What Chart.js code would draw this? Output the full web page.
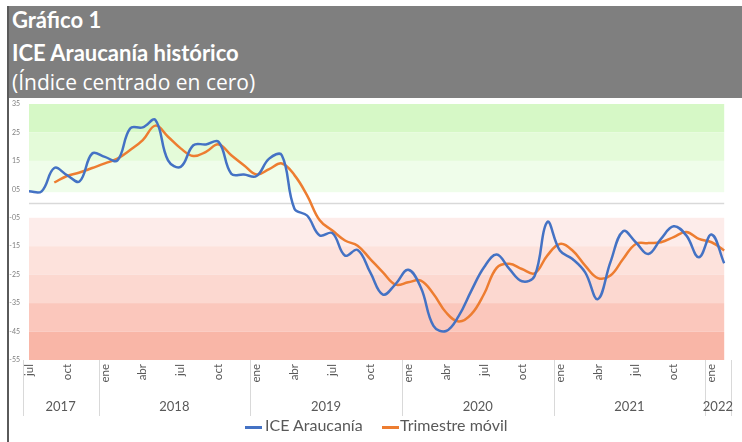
<!DOCTYPE html>
<html>
<head>
<meta charset="utf-8">
<script src="https://cdn.jsdelivr.net/npm/chart.js@4"></script>
<style>
  body { margin: 0; background: #fff; }
  #wrap { position: relative; width: 742px; height: 442px; overflow: hidden; }
  #frame { position: absolute; left: 7px; top: 6px; width: 735px; height: 436px; border-left: 2px solid #5a5a5a; }
  #head { position: absolute; left: 9px; top: 6px; width: 733px; height: 92px; background: #7f7f7f; color: #fff;
          font-family: Lato, "Open Sans", sans-serif; font-size: 22px; }
  #head div { position: absolute; left: 3px; white-space: nowrap; }
  #chart { position: absolute; left: 0; top: 0; }
  #legend { position: absolute; top: 415px; left: 0; width: 742px; font-family: Lato, sans-serif; font-size: 16px; color: #595959; }
  #legend span { position: absolute; white-space: nowrap; }
  #legend i { position: absolute; height: 2.5px; width: 17px; top: 11px; }
</style>
</head>
<body>
<div id="wrap">
  <canvas id="chart" width="742" height="442"></canvas>
  <div id="frame"></div>
  <div id="head">
    <div style="top:0px;font-weight:bold">Gráfico 1</div>
    <div style="top:33px;font-weight:bold">ICE Araucanía histórico</div>
    <div style="top:62px;font-family:'Open Sans';font-size:21px">(Índice centrado en cero)</div>
  </div>
  <div id="legend">
    <i style="left:245px;background:#4472c4"></i><span style="left:265px">ICE Araucanía</span>
    <i style="left:382px;background:#ed7d31"></i><span style="left:400px">Trimestre móvil</span>
  </div>
</div>
<script>
var months = ['jul','ago','sep','oct','nov','dic',
  'ene','feb','mar','abr','may','jun','jul','ago','sep','oct','nov','dic',
  'ene','feb','mar','abr','may','jun','jul','ago','sep','oct','nov','dic',
  'ene','feb','mar','abr','may','jun','jul','ago','sep','oct','nov','dic',
  'ene','feb','mar','abr','may','jun','jul','ago','sep','oct','nov','dic',
  'ene','feb'];
var years = [['2017', 0, 5], ['2018', 6, 17], ['2019', 18, 29], ['2020', 30, 41], ['2021', 42, 53], ['2022', 54, 55]];

var ice = [4.3, 4.3, 12.5, 10, 7.8, 17.6,
  16.4, 15.2, 26.4, 26.8, 29.4, 15.2, 12.9, 20.5, 20.8, 21.7, 10.5, 10.2,
  9.7, 15.8, 17, -1.8, -4.2, -11.2, -10.4, -18.3, -16.3, -24.2, -32, -28.3,
  -23.3, -29.5, -43, -44.8, -39.5, -30.6, -22.4, -17.9, -23, -27.3, -25.5, -6.5,
  -16.5, -19.5, -24.2, -33.6, -20.6, -9.7, -13.6, -17.7, -12.4, -8, -11.2, -18.9,
  -10.9, -21];
var trimestre = [null, null, 7.4, 9.7, 10.9, 12.5,
  14.1, 15.8, 18.8, 22.3, 27.4, 23.5, 19.4, 16.7, 18.2, 20.8, 17, 13.5,
  10.2, 12.1, 14.1, 10, 2.9, -5.9, -9.5, -13, -14.8, -19.5, -24.2, -28.5,
  -27.7, -27.1, -31.8, -38.3, -41.5, -38.9, -31.8, -22.6, -21.2, -23, -24.5, -18.3,
  -14.2, -16.5, -21.8, -26.2, -25.3, -19.5, -14.2, -13.9, -13.6, -11.8, -10, -12.4,
  -13.6, -16.5];

var yTicks = [35, 25, 15, 5, -5, -15, -25, -35, -45, -55];
var yTickLabels = ['35', '25', '15', '05', '-05', '-15', '-25', '-35', '-45', '-55'];

// background bands [from, to, colour]
var bands = [
  [25, 35, '#d6f8c6'], [15, 25, '#e4fbd9'], [4, 15, '#effdea'],
  [-5, -15, '#fdecea'], [-15, -25, '#fde2dc'], [-25, -35, '#fcd8d0'],
  [-35, -45, '#fbc7bc'], [-45, -55, '#f9b6a7']
];

var bandsPlugin = {
  id: 'bands',
  beforeDatasetsDraw: function(chart) {
    var c = chart.ctx, a = chart.chartArea, y = chart.scales.y;
    c.save();
    bands.forEach(function(b) {
      var y1 = y.getPixelForValue(b[1]), y0 = y.getPixelForValue(b[0]);
      c.fillStyle = b[2];
      c.fillRect(a.left, Math.min(y0, y1), a.right - a.left, Math.abs(y1 - y0));
    });
    // zero line
    c.strokeStyle = '#d9d9d9';
    c.lineWidth = 1.5;
    c.beginPath();
    c.moveTo(a.left, y.getPixelForValue(0));
    c.lineTo(a.right, y.getPixelForValue(0));
    c.stroke();
    c.restore();
  }
};

var yearsPlugin = {
  id: 'years',
  afterDraw: function(chart) {
    var c = chart.ctx, a = chart.chartArea, x = chart.scales.x;
    var half = (x.getPixelForValue(1) - x.getPixelForValue(0)) / 2;
    c.save();
    c.strokeStyle = '#d9d9d9';
    c.lineWidth = 1;
    c.fillStyle = '#595959';
    c.font = '13px Lato, sans-serif';
    c.textAlign = 'center';
    c.textBaseline = 'middle';
    years.forEach(function(g) {
      var l = x.getPixelForValue(g[1]) - half, r = x.getPixelForValue(g[2]) + half;
      [l, r].forEach(function(px) {
        c.beginPath();
        c.moveTo(Math.round(px) + 0.5, a.bottom);
        c.lineTo(Math.round(px) + 0.5, a.bottom + 56);
        c.stroke();
      });
      c.fillText(g[0], (l + r) / 2, a.bottom + 47);
    });
    c.restore();
  }
};

var ctx = document.getElementById('chart').getContext('2d');
var chart = new Chart(ctx, {
  type: 'line',
  data: {
    labels: months,
    datasets: [{
      label: 'ICE Araucanía',
      data: ice,
      borderColor: '#4472c4',
      borderWidth: 2.5,
      pointRadius: 0,
      tension: 0.4
    }, {
      label: 'Trimestre móvil',
      data: trimestre,
      borderColor: '#ed7d31',
      borderWidth: 2.5,
      pointRadius: 0,
      tension: 0.4
    }]
  },
  options: {
    responsive: false,
    animation: false,
    layout: { padding: { top: 104, right: 9, left: 0, bottom: 0 } },
    plugins: { legend: { display: false }, tooltip: { enabled: false } },
    scales: {
      y: {
        min: -55, max: 35,
        afterFit: function(s) { s.width = 29; },
        afterBuildTicks: function(s) { s.ticks = yTicks.map(function(v) { return { value: v }; }); },
        grid: { display: false, drawTicks: false },
        border: { display: false },
        ticks: {
          padding: 9,
          color: '#7f7f7f',
          font: { size: 7, family: 'Lato' },
          callback: function(v) { return yTickLabels[yTicks.indexOf(v)]; }
        }
      },
      x: {
        afterFit: function(s) { s.height = 82; },
        grid: { display: false, drawTicks: false },
        border: { display: false },
        ticks: {
          autoSkip: false,
          maxRotation: 90, minRotation: 90,
          padding: 4,
          color: '#595959',
          font: { size: 11.5, family: 'Lato' },
          callback: function(v, i) { return i % 3 === 0 ? months[i] : ''; }
        }
      }
    }
  },
  plugins: [bandsPlugin, yearsPlugin]
});
</script>
</body>
</html>
